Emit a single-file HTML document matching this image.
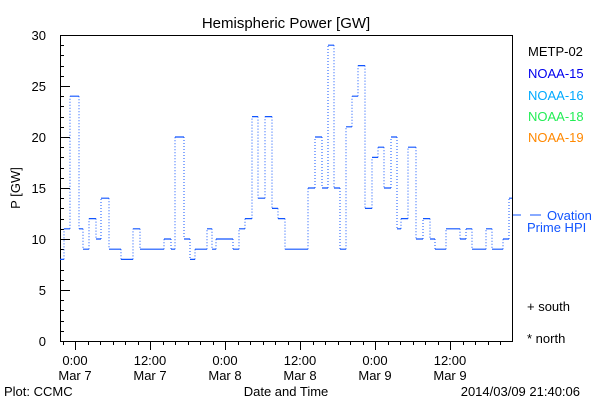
<!DOCTYPE html>
<html><head><meta charset="utf-8"><style>
html,body{margin:0;padding:0;background:#fff;}
svg text{font-family:"Liberation Sans",sans-serif;}
</style></head><body>
<svg id="s" width="600" height="400" xmlns="http://www.w3.org/2000/svg">
<rect width="600" height="400" fill="#fff"/>
<text x="286" y="28" font-size="15" text-anchor="middle">Hemispheric Power [GW]</text>
<rect x="60.5" y="35.5" width="452" height="306" fill="none" stroke="#000" stroke-width="1"/>
<g id="ax" stroke="#000" stroke-width="1"></g>
<g id="lab" font-size="13"></g>
<g id="data"></g>
<text x="20" y="188" font-size="13" transform="rotate(-90 20 188)" text-anchor="middle">P [GW]</text>
<text x="528" y="56" font-size="13" fill="#000">METP-02</text>
<text x="528" y="78" font-size="13" fill="#0000ee">NOAA-15</text>
<text x="528" y="100" font-size="13" fill="#00aaff">NOAA-16</text>
<text x="528" y="121" font-size="13" fill="#22ee55">NOAA-18</text>
<text x="528" y="142" font-size="13" fill="#ff8800">NOAA-19</text>
<line x1="513" y1="215" x2="521" y2="215" stroke="#1155ff"/>
<line x1="530" y1="215" x2="541" y2="215" stroke="#1155ff"/>
<text x="547" y="220" font-size="13" fill="#1155ff">Ovation</text>
<text x="527" y="232" font-size="13" fill="#1155ff">Prime HPI</text>
<text x="527" y="311" font-size="13">+ south</text>
<text x="527" y="343" font-size="13">* north</text>
<text x="4" y="396" font-size="13">Plot: CCMC</text>
<text x="286" y="396" font-size="13" text-anchor="middle">Date and Time</text>
<text x="580" y="396" font-size="13" text-anchor="end">2014/03/09 21:40:06</text>
</svg>
<script>
var NS="http://www.w3.org/2000/svg";
function el(p,t,a,txt){var e=document.createElementNS(NS,t);for(var k in a)e.setAttribute(k,a[k]);if(txt!==undefined)e.textContent=txt;document.getElementById(p).appendChild(e);return e;}
function Y(v){return 341-v*10.2;}
for(var v=0;v<=30;v++){var y=Math.round(Y(v))+0.5;el("ax","line",{x1:60,x2:v%5==0?70:64,y1:y,y2:y});}
for(var v=0;v<=30;v+=5){el("lab","text",{x:46,y:Y(v)+5,"text-anchor":"end"},String(v));}
for(var x=62.5;x<512;x+=12.5){var maj=Math.abs((x-75)%75)<0.1;el("ax","line",{x1:Math.round(x)+0.5,x2:Math.round(x)+0.5,y1:341,y2:maj?350:345});}
var lbs=[[75,"0:00","Mar 7"],[150,"12:00","Mar 7"],[225,"0:00","Mar 8"],[300,"12:00","Mar 8"],[375,"0:00","Mar 9"],[450,"12:00","Mar 9"]];
lbs.forEach(function(l){el("lab","text",{x:l[0],y:365,"text-anchor":"middle"},l[1]);el("lab","text",{x:l[0],y:380,"text-anchor":"middle"},l[2]);});
var d=[[60,8],[64,11],[70,24],[79,11],[83,9],[89,12],[96,10],[101,14],[109,9],[121,8],[133,11],[140,9],[164,10],[171,9],[175,20],[184,10],[190,8],[195,9],[207,11],[212,9],[216,10],[233,9],[239,11],[245,12],[252,22],[258,14],[265,22],[272,13],[278,12],[285,9],[308,15],[315,20],[322,15],[328,29],[334,15],[340,9],[346,21],[352,24],[358,27],[365,13],[372,18],[378,19],[384,15],[391,20],[397,11],[401,12],[408,19],[416,10],[423,12],[430,10],[435,9],[446,11],[460,10],[466,11],[472,9],[486,11],[492,9],[503,10],[509,14],[512,14]];
var h="",vv="";
for(var i=0;i<d.length-1;i++){var y=Y(d[i][1]);h+="M"+d[i][0]+" "+y+"H"+d[i+1][0];
 if(i<d.length-2||true){var y2=Y(d[i+1][1]);vv+="M"+d[i+1][0]+" "+y+"V"+y2;}}
el("data","path",{d:h,stroke:"#1155ff","stroke-width":1.2,fill:"none"});
el("data","path",{d:vv,stroke:"#1155ff","stroke-width":1,fill:"none","stroke-dasharray":"1 2"});
</script>
</body></html>
